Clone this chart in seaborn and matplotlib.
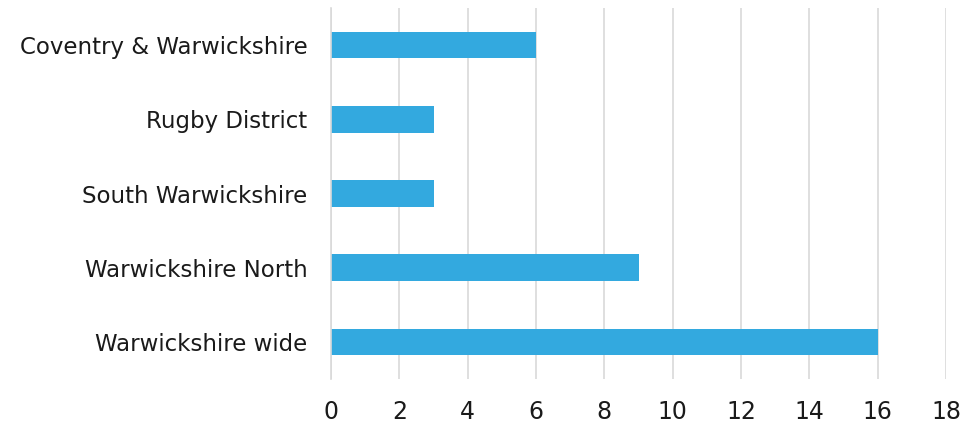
import matplotlib
matplotlib.use("Agg")
import matplotlib.pyplot as plt
import seaborn as sns
import pandas as pd

categories = ["Coventry & Warwickshire", "Rugby District", "South Warwickshire",
              "Warwickshire North", "Warwickshire wide"]
values = [6, 3, 3, 9, 16]
xticks = [0, 2, 4, 6, 8, 10, 12, 14, 16, 18]

df = pd.DataFrame({"area": categories, "count": values})

sns.set_theme(style="white")
plt.rcParams["font.family"] = ["DejaVu Sans"]

fig = plt.figure(figsize=(9.66, 4.22), dpi=100)
ax = fig.add_axes([0.3427, 0.1019, 0.9793 - 0.3427, 0.981 - 0.1019])

sns.barplot(data=df, y="area", x="count", color="#33A9DF", saturation=1,
            width=0.36, ax=ax, orient="h", linewidth=0)

ax.set_xlim(0, 18)
ax.set_ylim(4.5, -0.5)
ax.set_xticks(xticks)
ax.set_xticklabels([str(t) for t in xticks])
ax.xaxis.grid(True, color="#D9D9D9", linewidth=1.2)
ax.set_axisbelow(True)
for s in ["top", "right", "bottom"]:
    ax.spines[s].set_visible(False)
ax.spines["left"].set_color("#D9D9D9")
ax.spines["left"].set_linewidth(1.2)
ax.tick_params(axis="y", length=0, labelsize=16.5, colors="#1a1a1a", pad=17)
ax.tick_params(axis="x", length=0, labelsize=17, colors="#1a1a1a", pad=15)
ax.set_xlabel("")
ax.set_ylabel("")

fig.savefig("out.png", dpi=100)
